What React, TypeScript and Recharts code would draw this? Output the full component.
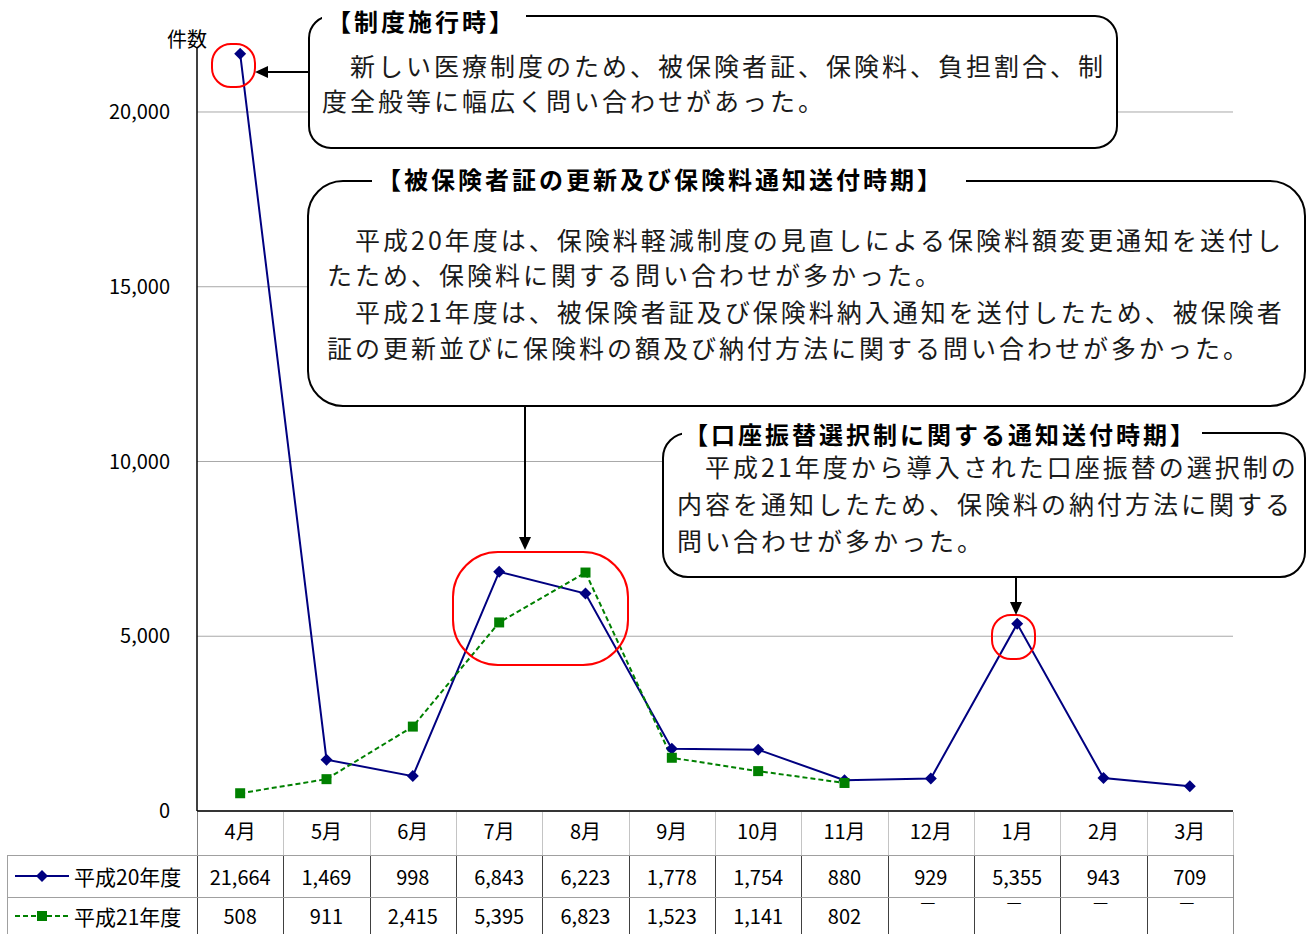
import React from "react";
import { LineChart, Line, XAxis, YAxis, CartesianGrid } from "recharts";

const months = ["4月", "5月", "6月", "7月", "8月", "9月", "10月", "11月", "12月", "1月", "2月", "3月"];
const h20Values = [21664, 1469, 998, 6843, 6223, 1778, 1754, 880, 929, 5355, 943, 709];
const h21Values: (number | null)[] = [508, 911, 2415, 5395, 6823, 1523, 1141, 802, null, null, null, null];
const yTicks = [0, 5000, 10000, 15000, 20000];
const seriesNames = ["平成20年度", "平成21年度"];

const FONT = "'Noto Sans CJK JP', 'Noto Sans', sans-serif";
const NAVY = "#000080";
const GREEN = "#008000";

// plot box (page pixels)
const PLOT_LEFT = 197;
const PLOT_RIGHT = 1233;
const COL_W = (PLOT_RIGHT - PLOT_LEFT) / months.length;

const chartData = months.map((m, i) => ({ month: m, h20: h20Values[i], h21: h21Values[i] }));

const fmt = (v: number | null) => (v == null ? "—" : v.toLocaleString("en-US"));

function Diamond(props: any) {
  const { cx, cy } = props;
  if (cx == null || cy == null) return <g key={props.index} />;
  return (
    <polygon
      key={props.index}
      points={`${cx},${cy - 6} ${cx + 6},${cy} ${cx},${cy + 6} ${cx - 6},${cy}`}
      fill={NAVY}
    />
  );
}

function Square(props: any) {
  const { cx, cy } = props;
  if (cx == null || cy == null) return <g key={props.index} />;
  return <rect key={props.index} x={cx - 5} y={cy - 5} width={10} height={10} fill={GREEN} />;
}

function LegendMark({ dashed }: { dashed: boolean }) {
  const c = dashed ? GREEN : NAVY;
  return (
    <svg width={56} height={16} style={{ display: "block" }}>
      <line x1={1} y1={8} x2={55} y2={8} stroke={c} strokeWidth={2} strokeDasharray={dashed ? "5 3" : undefined} />
      {dashed ? (
        <rect x={23} y={3} width={10} height={10} fill={c} />
      ) : (
        <polygon points="28,2 34,8 28,14 22,8" fill={c} />
      )}
    </svg>
  );
}

function DataTable() {
  const rows = [h20Values as (number | null)[], h21Values];
  const rowTops = [855, 897];
  const rowHeights = [42, 37];
  const cells: React.ReactNode[] = [];

  // header row separators (labels come from the XAxis)
  for (let i = 0; i <= months.length; i++) {
    cells.push(
      <div key={"hs" + i} style={{ position: "absolute", left: PLOT_LEFT + i * COL_W, top: 812, width: 1, height: 43, background: i === 0 ? "#808080" : "#c4c4c4" }} />
    );
    cells.push(
      <div key={"ds" + i} style={{ position: "absolute", left: PLOT_LEFT + i * COL_W, top: 855, width: 1, height: 79, background: i === months.length ? "#8a8a8a" : "#404040" }} />
    );
  }
  cells.push(<div key="lb" style={{ position: "absolute", left: 7, top: 855, width: 1, height: 79, background: "#a0a0a0" }} />);
  for (const t of rowTops) {
    cells.push(<div key={"hl" + t} style={{ position: "absolute", left: 7, top: t, width: PLOT_RIGHT - 7, height: 1, background: "#a0a0a0" }} />);
  }

  rows.forEach((vals, r) => {
    cells.push(
      <div
        key={"lab" + r}
        style={{ position: "absolute", left: 14, top: rowTops[r], height: rowHeights[r], display: "flex", alignItems: "center", gap: 4, fontSize: 21 }}
      >
        <LegendMark dashed={r === 1} />
        <span>{seriesNames[r]}</span>
      </div>
    );
    vals.forEach((v, i) => {
      if (v == null) {
        // missing months: the dash sits right under the row line, as in the source table
        cells.push(
          <div
            key={"c" + r + "-" + i}
            style={{
              position: "absolute",
              left: PLOT_LEFT + i * COL_W - 3,
              top: rowTops[r] - 5,
              width: COL_W,
              textAlign: "center",
              fontSize: 17,
              lineHeight: "17px",
            }}
          >
            {fmt(v)}
          </div>
        );
        return;
      }
      cells.push(
        <div
          key={"c" + r + "-" + i}
          style={{
            position: "absolute",
            left: PLOT_LEFT + i * COL_W,
            top: rowTops[r],
            width: COL_W,
            height: rowHeights[r],
            display: "flex",
            alignItems: "center",
            justifyContent: "center",
            fontSize: 20,
          }}
        >
          {fmt(v)}
        </div>
      );
    });
  });

  return <>{cells}</>;
}

function Callouts() {
  const body = { fontFamily: FONT, fontSize: 25, letterSpacing: 3, fill: "#1a1a1a" } as const;
  const title = { fontFamily: FONT, fontSize: 24, letterSpacing: 3, fontWeight: 700, fill: "#000" } as const;
  return (
    <svg width={1309} height={934} style={{ position: "absolute", left: 0, top: 0, pointerEvents: "none" }}>
      {/* red marks */}
      <rect x={212} y={44} width={43} height={43} rx={19} fill="none" stroke="#ff0000" strokeWidth={2} />
      <rect x={453} y={552} width={175} height={113} rx={45} fill="none" stroke="#ff0000" strokeWidth={2} />
      <rect x={992} y={615} width={43} height={44} rx={19} fill="none" stroke="#ff0000" strokeWidth={2} />

      {/* arrows */}
      <line x1={309} y1={72} x2={266} y2={72} stroke="#000" strokeWidth={2} />
      <polygon points="255,72 268,66 268,78" fill="#000" />
      <line x1={525} y1={406} x2={525} y2={538} stroke="#000" strokeWidth={2} />
      <polygon points="525,550 519,537 531,537" fill="#000" />
      <line x1={1016} y1={577} x2={1016} y2={603} stroke="#000" strokeWidth={2} />
      <polygon points="1016,615 1010,602 1022,602" fill="#000" />

      {/* box 1 */}
      <rect x={309} y={16} width={808} height={132} rx={22} fill="#fff" stroke="#000" strokeWidth={2} />
      <rect x={322} y={6} width={204} height={20} fill="#fff" />
      <text x={327} y={31} style={title}>【制度施行時】</text>
      <text x={322} y={76} style={body}>　新しい医療制度のため、被保険者証、保険料、負担割合、制</text>
      <text x={322} y={111} style={body}>度全般等に幅広く問い合わせがあった。</text>

      {/* box 2 */}
      <rect x={308} y={181} width={997} height={225} rx={35} fill="#fff" stroke="#000" strokeWidth={2} />
      <rect x={372} y={170} width={594} height={22} fill="#fff" />
      <text x={377} y={189} style={title}>【被保険者証の更新及び保険料通知送付時期】</text>
      <text x={327} y={250} style={body}>　平成20年度は、保険料軽減制度の見直しによる保険料額変更通知を送付し</text>
      <text x={327} y={285} style={body}>たため、保険料に関する問い合わせが多かった。</text>
      <text x={327} y={322} style={body}>　平成21年度は、被保険者証及び保険料納入通知を送付したため、被保険者</text>
      <text x={327} y={358} style={body}>証の更新並びに保険料の額及び納付方法に関する問い合わせが多かった。</text>

      {/* box 3 */}
      <rect x={663} y={433} width={642} height={144} rx={25} fill="#fff" stroke="#000" strokeWidth={2} />
      <rect x={682} y={422} width={520} height={22} fill="#fff" />
      <text x={684} y={444} style={title}>【口座振替選択制に関する通知送付時期】</text>
      <text x={677} y={477} style={body}>　平成21年度から導入された口座振替の選択制の</text>
      <text x={677} y={514} style={body}>内容を通知したため、保険料の納付方法に関する</text>
      <text x={677} y={551} style={body}>問い合わせが多かった。</text>
    </svg>
  );
}

export default function App() {
  return (
    <div style={{ position: "absolute", left: 0, top: 0, width: 1309, height: 934, background: "#fff", fontFamily: FONT, color: "#000", overflow: "hidden" }}>
      <LineChart width={1309} height={855} data={chartData} margin={{ top: 48, right: 76, left: 0, bottom: 0 }}>
        <CartesianGrid vertical={false} horizontalValues={yTicks} stroke="#a8a8a8" />
        <XAxis
          dataKey="month"
          scale="band"
          interval={0}
          height={44}
          axisLine={{ stroke: "#000", strokeWidth: 1.5 }}
          tickLine={false}
          tickSize={0}
          tickMargin={14}
          tick={{ fill: "#000", fontSize: 20, fontFamily: FONT }}
        />
        <YAxis
          width={197}
          domain={[0, 21831]}
          ticks={yTicks}
          allowDataOverflow
          tickFormatter={(v) => Number(v).toLocaleString("en-US")}
          axisLine={{ stroke: "#000", strokeWidth: 1.5 }}
          tickLine={false}
          tickSize={0}
          tickMargin={27}
          tick={{ fill: "#000", fontSize: 20, fontFamily: FONT }}
        />
        <Line
          type="linear"
          dataKey="h20"
          stroke={NAVY}
          strokeWidth={2}
          dot={Diamond}
          activeDot={false}
          isAnimationActive={false}
        />
        <Line
          type="linear"
          dataKey="h21"
          stroke={GREEN}
          strokeWidth={2}
          strokeDasharray="5 3"
          dot={Square}
          activeDot={false}
          connectNulls={false}
          isAnimationActive={false}
        />
      </LineChart>
      <div style={{ position: "absolute", left: 167, top: 24, fontSize: 20 }}>件数</div>
      <DataTable />
      <Callouts />
    </div>
  );
}
